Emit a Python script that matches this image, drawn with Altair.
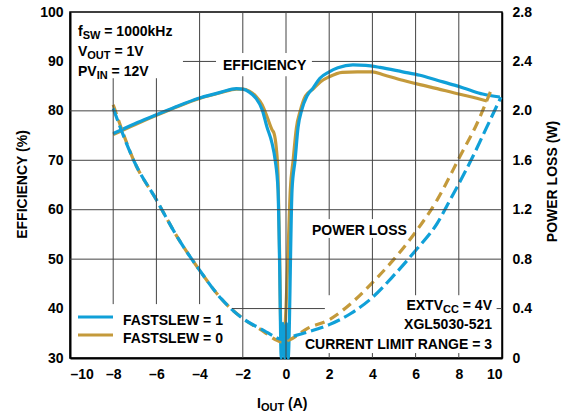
import altair as alt
import pandas as pd

BLUE = "#10A0D8"
GOLD = "#C49A3B"
GRID = "#444444"
FONT = "Liberation Sans"

series_names = ["FASTSLEW = 1", "FASTSLEW = 0"]

# Efficiency (%) versus output current (A)
eff1_iout = [-8, -7, -6, -5, -4, -3, -2.3, -2.0, -1.7, -1.4, -1.1, -0.88, -0.65, -0.5,
             -0.37, -0.3, -0.22, -0.14, -0.06, 0.02, 0.1, 0.28, 0.42, 0.56, 0.73, 0.97,
             1.25, 1.57, 2.0, 2.4, 3.1, 3.7, 4.35, 5.4, 6.2, 7.0, 7.8, 8.5, 9.1, 9.9]
eff1_pct = [75.4, 77.4, 79.2, 81.0, 82.6, 83.8, 84.5, 84.4, 83.8, 82.6, 80.2, 76.7, 73.5, 70.0,
            64.0, 50.0, 30.0, 37.0, 30.0, 37.0, 30.0, 64.0, 70.0, 76.7, 80.2, 83.0,
            84.6, 86.6, 87.9, 88.7, 89.3, 89.2, 88.8, 87.9, 87.2, 86.2, 85.2, 84.2, 83.4, 82.8]

eff0_iout = [-8, -7, -6, -5, -4, -3, -2.3, -2.0, -1.7, -1.4, -1.1, -0.85, -0.65, -0.55,
             -0.45, -0.37, -0.3, -0.22, -0.12, 0.0, 0.1, 0.2, 0.33, 0.48, 0.66, 0.9,
             1.25, 1.6, 2.0, 2.6, 3.3, 4.0, 4.5, 5.4, 6.2, 7.0, 7.8, 8.5, 9.3]
eff0_pct = [75.2, 77.2, 79.1, 80.9, 82.5, 83.7, 84.4, 84.4, 84.0, 83.0, 81.2, 78.5, 76.2, 75.4,
            72.5, 67.0, 52.0, 33.0, 33.0, 40.0, 52.0, 64.0, 70.0, 76.5, 80.0, 83.0,
            84.4, 85.9, 86.9, 87.8, 87.9, 87.9, 87.3, 86.2, 85.3, 84.5, 83.6, 82.9, 82.0]

# Power loss (W) versus output current (A)
loss1_iout = [-8, -7, -6, -5, -4, -3, -2, -1, -0.5, -0.2, 0.2, 1, 2, 3, 4, 5, 6, 7,
              7.6, 8.65, 9.3, 9.95]
loss1_w = [2.02, 1.58, 1.28, 0.97, 0.71, 0.48, 0.32, 0.22, 0.17, 0.15, 0.17, 0.21, 0.27,
           0.36, 0.49, 0.67, 0.87, 1.09, 1.28, 1.63, 1.87, 2.11]

loss0_iout = [-8, -7, -6, -5, -4, -3, -2, -1, -0.5, -0.2, 0.2, 1, 2, 3, 4, 5, 6, 7,
              8.05, 8.85, 9.5]
loss0_w = [2.05, 1.58, 1.28, 0.97, 0.71, 0.48, 0.32, 0.21, 0.15, 0.13, 0.15, 0.24, 0.31,
           0.44, 0.61, 0.80, 1.02, 1.28, 1.63, 1.90, 2.17]

x_ticks = list(range(-10, 11, 2))
eff_ticks = list(range(30, 101, 10))
loss_ticks = [0, 0.4, 0.8, 1.2, 1.6, 2.0, 2.4, 2.8]

# Grid segments, interrupted where the annotation blocks sit
# vertical: (x, from %, to %); horizontal: (%, from A, to A)
vgrid_segments = [
    (-8, 40.9, 86.6), (-6, 40.9, 86.6), (-4, 40.9, 100),
    (-2, 30, 87.0), (-2, 91.7, 100), (0, 30, 87.0), (0, 91.7, 100),
    (2, 30, 31.0), (2, 42.7, 54.3), (2, 58.1, 100),
    (4, 30, 31.0), (4, 42.7, 54.3), (4, 58.1, 100),
    (6, 30, 31.0), (6, 42.7, 100), (8, 30, 31.0), (8, 42.7, 100),
]
hgrid_segments = [
    (40, -2.5, 1.8), (40, 9.75, 10),
    (50, -10, 10), (60, -10, 10), (70, -10, 10), (80, -10, 10),
    (90, -4.77, -3.24), (90, 1.2, 10),
]

W, H = 432, 346


def to_iout(px):
    return -10 + px * 20 / W


def to_pct(py):
    return 100 - py * 70 / H


def frame(xs, ys, name):
    return pd.DataFrame({"iout": xs, "val": ys, "series": name, "order": range(len(xs))})


x_axis = alt.Axis(values=x_ticks, grid=False, title=None, labelPadding=9,
                  domainWidth=2,
                  labelExpr="datum.value < 0 ? '\u2013' + abs(datum.value) : '' + datum.value")
x_scale = alt.Scale(domain=[-10, 10], nice=False)
x_enc = alt.X("iout:Q", scale=x_scale, axis=x_axis)

eff_scale = alt.Scale(domain=[30, 100], nice=False)
eff_y = alt.Y("val:Q", scale=eff_scale,
              axis=alt.Axis(orient="left", values=eff_ticks, grid=False, labelPadding=7,
                            domainWidth=2, title="EFFICIENCY (%)", titleAngle=270,
                            titleX=-48, titleY=172, titleBaseline="middle"))
loss_y = alt.Y("val:Q", scale=alt.Scale(domain=[0, 2.8], nice=False),
               axis=alt.Axis(orient="right", values=loss_ticks, grid=False, labelPadding=10,
                             domainWidth=1.5, title="POWER LOSS (W)", titleAngle=270,
                             titleX=50, titleY=169, titleBaseline="middle",
                             labelExpr="datum.value == 0 ? '0' : format(datum.value, '.1f')"))
# grid uses the efficiency range on a scale of its own, without an axis
grid_y = alt.Y("val:Q", scale=alt.Scale(domain=[30, 100], nice=False), axis=None)


def curve(df, y_enc, color, dash=None):
    kw = dict(color=color, strokeWidth=3.2, interpolate="monotone")
    if dash:
        kw["strokeDash"] = dash
    return alt.Chart(df).mark_line(**kw).encode(x=x_enc, y=y_enc, order="order:Q")


vgrid_df = pd.DataFrame(vgrid_segments, columns=["iout", "val", "val2"])
hgrid_df = pd.DataFrame(hgrid_segments, columns=["val", "iout", "iout2"])
grid_layer = alt.layer(
    alt.Chart(vgrid_df).mark_rule(color=GRID, strokeWidth=1).encode(
        x=x_enc, y=grid_y, y2="val2:Q"),
    alt.Chart(hgrid_df).mark_rule(color=GRID, strokeWidth=1).encode(
        x=x_enc, x2="iout2:Q", y=grid_y),
)

# Annotation pieces: text, x, y (baseline) in plot pixels, font size, alignment
labels = [
    ("f", 8, 24, 14, "left"), ("SW", 12.7, 27, 11, "left"), ("= 1000kHz", 34.3, 24, 14, "left"),
    ("V", 8, 44, 14, "left"), ("OUT", 17.3, 47, 11, "left"), ("= 1V", 44.4, 44, 14, "left"),
    ("PV", 8, 64, 14, "left"), ("IN", 26.7, 67, 11, "left"), ("= 12V", 41.6, 64, 14, "left"),
    ("EFFICIENCY", 153, 58, 14, "left"),
    ("POWER LOSS", 242, 223, 14, "left"),
    ("= 4V", 422, 298, 14, "right"), ("CC", 388.9, 301, 11, "right"), ("EXTV", 373, 298, 14, "right"),
    ("XGL5030-521", 422, 316.5, 14, "right"),
    ("CURRENT LIMIT RANGE = 3", 422, 337, 14, "right"),
    ("FASTSLEW = 1", 53, 313, 14, "left"),
    ("FASTSLEW = 0", 53, 331, 14, "left"),
    ("I", 187, 396, 14, "left"), ("OUT", 190.9, 399, 11, "left"), ("(A)", 218, 396, 14, "left"),
]
label_df = pd.DataFrame(labels, columns=["text", "px", "py", "fs", "align"])
label_df["iout"] = to_iout(label_df["px"])
label_df["val"] = to_pct(label_df["py"])


def text_layer(align):
    df = label_df[label_df["align"] == align][["text", "iout", "val", "fs"]]
    return alt.Chart(df).mark_text(align=align, baseline="alphabetic", font=FONT,
                                   fontWeight="bold", color="black").encode(
        x=x_enc, y=eff_y, text="text:N", size=alt.Size("fs:Q", scale=None, legend=None))


# Legend line samples
legend_df = pd.DataFrame({
    "series": series_names,
    "iout": [to_iout(8)] * 2,
    "iout2": [to_iout(43)] * 2,
    "val": [to_pct(305), to_pct(323)],
})
legend_rules = alt.Chart(legend_df).mark_rule(strokeWidth=3.2).encode(
    x=x_enc, x2="iout2:Q", y=eff_y,
    color=alt.Color("series:N", scale=alt.Scale(domain=series_names, range=[BLUE, GOLD]),
                    legend=None))

eff_layer = alt.layer(
    curve(frame(eff0_iout, eff0_pct, series_names[1]), eff_y, GOLD),
    curve(frame(eff1_iout, eff1_pct, series_names[0]), eff_y, BLUE),
    legend_rules,
    text_layer("left"),
    text_layer("right"),
)
loss_layer = alt.layer(
    curve(frame(loss0_iout, loss0_w, series_names[1]), loss_y, GOLD, [10, 6]),
    curve(frame(loss1_iout, loss1_w, series_names[0]), loss_y, BLUE, [13, 5]),
)

chart = (
    alt.layer(eff_layer, loss_layer, grid_layer)
    .resolve_scale(y="independent")
    .properties(width=W, height=H, autosize=alt.AutoSizeParams(type="none"),
                padding={"left": 70, "top": 12, "right": 66, "bottom": 55},
                background="white")
    .configure_view(stroke="black", strokeWidth=1.5)
    .configure_axis(domainColor="black", ticks=False,
                    labelFont=FONT, labelFontSize=14, labelFontWeight="bold", labelColor="black",
                    titleFont=FONT, titleFontSize=14, titleFontWeight="bold", titleColor="black")
)

chart.save("out.html", embed_options={"renderer": "svg", "actions": False})
